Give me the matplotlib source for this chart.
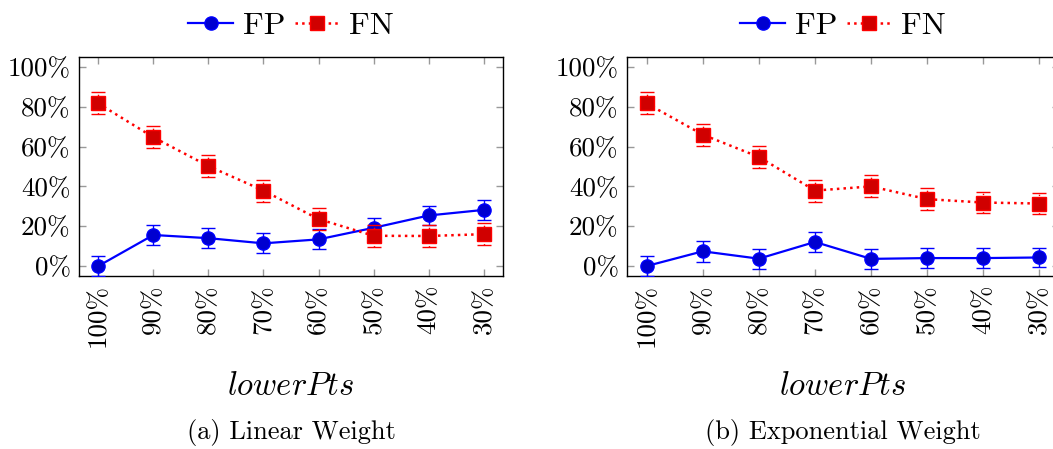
import matplotlib
matplotlib.use("Agg")
import matplotlib.pyplot as plt
from matplotlib.lines import Line2D

plt.rcParams["font.family"] = ["cmr10", "DejaVu Serif"]
plt.rcParams["mathtext.fontset"] = "cm"
plt.rcParams["axes.formatter.use_mathtext"] = True

# data (percent)
levels = ["100%", "90%", "80%", "70%", "60%", "50%", "40%", "30%"]

fp_linear = [0.0, 15.6, 14.0, 11.4, 13.4, 19.2, 25.4, 28.2]
fn_linear = [81.7, 64.7, 50.2, 37.9, 23.6, 15.2, 15.1, 16.0]
fp_exp = [0.0, 7.4, 3.7, 12.1, 3.6, 4.0, 4.0, 4.3]
fn_exp = [81.7, 66.0, 54.8, 37.9, 40.0, 33.6, 31.9, 31.4]

fp_err = [5.0, 5.2, 5.0, 5.0, 5.0, 5.0, 5.0, 5.0]
fn_err = [5.5, 5.5, 5.5, 5.5, 5.5, 5.5, 5.5, 5.5]

panels = [
    ("(a) Linear Weight", fp_linear, fn_linear, [79, 424]),
    ("(b) Exponential Weight", fp_exp, fn_exp, [627, 432]),
]

W, H = 1053, 449
fig = plt.figure(figsize=(W / 100.0, H / 100.0), dpi=100)

fp_style = dict(color="blue", linestyle="-", linewidth=1.6, marker="o", markersize=9.5,
                markerfacecolor="#0000d0", markeredgecolor="blue")
fn_style = dict(color="red", linestyle=":", linewidth=1.8, marker="s", markersize=9.5,
                markerfacecolor="#d00000", markeredgecolor="red")

for caption, fp, fn, (x0, w) in panels:
    ax = fig.add_axes([x0 / W, (H - 276) / H, w / W, 219 / H])
    xs = list(range(len(levels)))

    ax.errorbar(xs, fp, yerr=fp_err, ecolor="blue", elinewidth=1.0, capsize=5,
                capthick=1.0, zorder=3, **fp_style)
    _, _, fn_bars = ax.errorbar(xs, fn, yerr=fn_err, ecolor="red", elinewidth=1.0,
                                capsize=5, capthick=1.0, zorder=4, **fn_style)
    for b in fn_bars:
        b.set_linestyle(":")

    ax.set_xlim(-0.35, len(levels) - 1 + 0.35)
    ax.set_ylim(-5, 105)
    ax.set_xticks(xs)
    ax.set_xticklabels(levels, rotation=90, fontsize=19.5)
    ax.set_yticks([0, 20, 40, 60, 80, 100])
    ax.set_yticklabels(["0%", "20%", "40%", "60%", "80%", "100%"], fontsize=19.5)
    ax.tick_params(direction="in", length=5, width=1.0, color="#999999",
                   top=True, right=True, pad=6)
    for s in ax.spines.values():
        s.set_linewidth(1.0)

    ax.set_xlabel("$lowerPts$", fontsize=23.5, labelpad=18)
    handles = [Line2D([], [], **fp_style), Line2D([], [], **fn_style)]
    ax.legend(handles, ["FP", "FN"], loc="lower center", bbox_to_anchor=(0.5, 1.02),
              ncol=2, frameon=False, fontsize=23, handlelength=1.4,
              handletextpad=0.3, columnspacing=0.3, borderaxespad=0.0)
    ax.text((x0 + w / 2) / W, (H - 433) / H, caption, transform=fig.transFigure,
            fontsize=19, ha="center", va="center")

fig.savefig("out.png", dpi=100)
